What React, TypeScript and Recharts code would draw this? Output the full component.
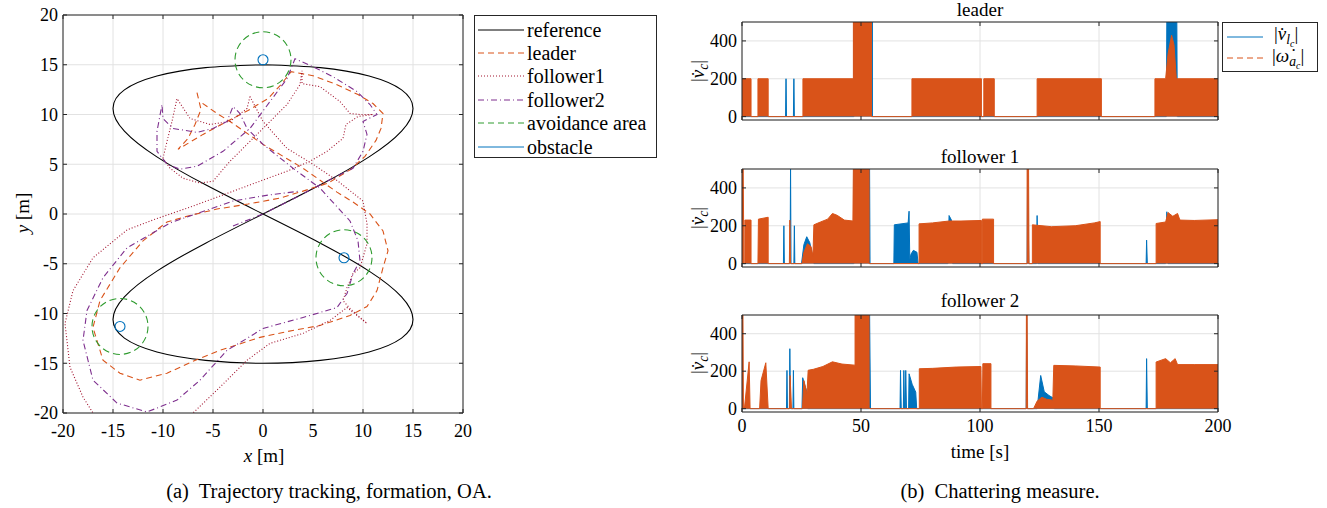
import React from "react";
import {
  LineChart,
  Line,
  ComposedChart,
  Area,
  XAxis,
  YAxis,
  CartesianGrid,
  ReferenceDot,
  Legend,
} from "recharts";

const FONT = '"Liberation Serif", "Times New Roman", serif';
const AXIS = "#262626";
const GRID = "#e2e2e2";
const C_BLUE = "#0072BD";
const C_ORANGE = "#D95319";
const C_F1 = "#A2142F";
const C_F2 = "#7E2F8E";
const C_GREEN = "#2E9B2E";

// ---- (a) trajectories ----
const trajTicks = [-20, -15, -10, -5, 0, 5, 10, 15, 20];

const referencePath = [
  { x: 0, y: 15 }, { x: 5.74, y: 14.71 }, { x: 10.61, y: 13.86 }, { x: 13.86, y: 12.47 },
  { x: 15, y: 10.61 }, { x: 13.86, y: 8.33 }, { x: 10.61, y: 5.74 }, { x: 5.74, y: 2.93 },
  { x: 0, y: 0 }, { x: -5.74, y: -2.93 }, { x: -10.61, y: -5.74 }, { x: -13.86, y: -8.33 },
  { x: -15, y: -10.61 }, { x: -13.86, y: -12.47 }, { x: -10.61, y: -13.86 }, { x: -5.74, y: -14.71 },
  { x: 0, y: -15 }, { x: 5.74, y: -14.71 }, { x: 10.61, y: -13.86 }, { x: 13.86, y: -12.47 },
  { x: 15, y: -10.61 }, { x: 13.86, y: -8.33 }, { x: 10.61, y: -5.74 }, { x: 5.74, y: -2.93 },
  { x: 0, y: 0 }, { x: -5.74, y: 2.93 }, { x: -10.61, y: 5.74 }, { x: -13.86, y: 8.33 },
  { x: -15, y: 10.61 }, { x: -13.86, y: 12.47 }, { x: -10.61, y: 13.86 }, { x: -5.74, y: 14.71 },
  { x: 0, y: 15 },
];

const leaderPath = [
  { x: -6.6, y: 12.2 }, { x: -6.2, y: 10.5 }, { x: -6.8, y: 9 }, { x: -7.5, y: 7.6 },
  { x: -8.5, y: 6.5 }, { x: -6, y: 8 }, { x: -3.6, y: 9.3 }, { x: -1.5, y: 10.4 },
  { x: 0.5, y: 11.6 }, { x: 1.8, y: 13 }, { x: 2.8, y: 14.3 }, { x: 5, y: 13.9 },
  { x: 7.4, y: 13 }, { x: 9.5, y: 12 }, { x: 11, y: 11.1 }, { x: 12, y: 10.1 },
  { x: 11.8, y: 8.6 }, { x: 11.3, y: 7.4 }, { x: 10.2, y: 5.8 }, { x: 8.8, y: 4.5 },
  { x: 6.5, y: 3.1 }, { x: 4, y: 2.3 }, { x: 1.7, y: 1.6 }, { x: -1.5, y: 1 },
  { x: -4.6, y: 0.5 }, { x: -7.5, y: -0.2 }, { x: -9.6, y: -0.8 }, { x: -12, y: -2.7 },
  { x: -14.3, y: -5.4 }, { x: -16.3, y: -8.7 }, { x: -17, y: -11.4 }, { x: -16, y: -14.7 },
  { x: -14.3, y: -16 }, { x: -12.3, y: -16.7 }, { x: -9.6, y: -16 }, { x: -7, y: -14.8 },
  { x: -4.3, y: -13.7 }, { x: -0.3, y: -12.4 }, { x: 2.5, y: -11.8 }, { x: 5.7, y: -11.2 },
  { x: 8.7, y: -10.2 }, { x: 10.4, y: -9.3 }, { x: 11.4, y: -7.7 }, { x: 12, y: -5.4 },
  { x: 12.5, y: -3.7 }, { x: 12, y: -1.7 }, { x: 10.7, y: 0 }, { x: 9, y: 1.2 },
  { x: 7.4, y: 2.2 }, { x: 4, y: 4.6 }, { x: 0, y: 7 }, { x: -3.3, y: 9.3 },
  { x: -4.6, y: 10.1 }, { x: -6.3, y: 11.3 },
];

const follower1Path = [
  { x: -1.3, y: 11.8 }, { x: -1.6, y: 10.6 }, { x: -3.3, y: 9.3 }, { x: -5.3, y: 9 },
  { x: -7.3, y: 9.6 }, { x: -8.6, y: 11.6 }, { x: -9.1, y: 9.3 }, { x: -9.6, y: 7.3 },
  { x: -10, y: 5.6 }, { x: -9.3, y: 4.6 }, { x: -8, y: 3.6 }, { x: -6.3, y: 3.1 },
  { x: -5, y: 3.3 }, { x: -3.3, y: 5.3 }, { x: -1.3, y: 7.3 }, { x: 0.7, y: 9.3 },
  { x: 2.4, y: 11 }, { x: 3.7, y: 13 }, { x: 3.9, y: 14.4 }, { x: 3.9, y: 13.1 },
  { x: 5.7, y: 12.8 }, { x: 7.7, y: 11.3 }, { x: 8.7, y: 10.1 }, { x: 9.7, y: 10 },
  { x: 11, y: 10 }, { x: 9.5, y: 9.8 }, { x: 8.3, y: 9 }, { x: 8, y: 7.6 },
  { x: 6.4, y: 6.3 }, { x: 4.7, y: 5.3 }, { x: 2.4, y: 4.3 }, { x: -0.3, y: 3.3 },
  { x: -3.5, y: 2.1 }, { x: -7, y: 0.8 }, { x: -11, y: -0.6 }, { x: -13.6, y: -1.6 },
  { x: -17, y: -4.4 }, { x: -19, y: -7.7 }, { x: -19.8, y: -11 }, { x: -19.3, y: -15.4 },
  { x: -18, y: -18.4 }, { x: -17, y: -20 }, { x: -15, y: -21.8 }, { x: -11, y: -22.5 },
  { x: -7.6, y: -20.6 }, { x: -7, y: -20 }, { x: -4.3, y: -17.4 }, { x: -1.6, y: -14.7 },
  { x: 0.7, y: -13 }, { x: 4, y: -12 }, { x: 6.7, y: -10.7 }, { x: 8.4, y: -9.4 },
  { x: 10.4, y: -11 }, { x: 8.8, y: -9.6 }, { x: 8, y: -8.7 }, { x: 8.4, y: -7.4 },
  { x: 9, y: -6 }, { x: 9.7, y: -5.4 }, { x: 10.4, y: -3 }, { x: 10.4, y: -1 },
  { x: 10, y: 1.3 }, { x: 7.5, y: 3.3 }, { x: 5, y: 5 }, { x: 3.7, y: 5.8 },
  { x: 2.4, y: 6.6 }, { x: 0, y: 9.3 }, { x: -1.3, y: 11.8 },
];

const follower2Path = [
  { x: -3, y: -1.2 }, { x: 0, y: 0 }, { x: 3, y: 1.5 }, { x: 6.4, y: 3.3 },
  { x: 9, y: 4.6 }, { x: 10, y: 6.3 }, { x: 10.4, y: 8 }, { x: 10, y: 9.3 },
  { x: 11.4, y: 10 }, { x: 10.7, y: 11 }, { x: 9.4, y: 12.3 }, { x: 7, y: 13.8 },
  { x: 5, y: 14.8 }, { x: 3.2, y: 15.6 }, { x: 2.4, y: 13.6 }, { x: 0.7, y: 11.3 },
  { x: -1.3, y: 8.6 }, { x: -4, y: 6.3 }, { x: -6.6, y: 4.8 }, { x: -8.3, y: 4.5 },
  { x: -9.6, y: 5 }, { x: -10.6, y: 6.3 }, { x: -10.6, y: 8.3 }, { x: -10.1, y: 11 },
  { x: -10, y: 9.6 }, { x: -9, y: 8.6 }, { x: -6.6, y: 8.2 }, { x: -5, y: 8.6 },
  { x: -3.6, y: 9.3 }, { x: -3, y: 10.8 }, { x: -2.3, y: 10.1 }, { x: -1.6, y: 8.6 },
  { x: 0, y: 7 }, { x: 3, y: 4.6 }, { x: 5.7, y: 2.6 }, { x: 8.7, y: -0.7 },
  { x: 9.5, y: -2.7 }, { x: 9.7, y: -4.7 }, { x: 9, y: -6 }, { x: 8.4, y: -8 },
  { x: 7.4, y: -9.4 }, { x: 4, y: -10.4 }, { x: 0, y: -11.5 }, { x: -1.6, y: -12.5 },
  { x: -3.6, y: -13.7 }, { x: -6.3, y: -16.7 }, { x: -8.6, y: -18.7 }, { x: -11.6, y: -19.9 },
  { x: -14.6, y: -19 }, { x: -17, y: -16.7 }, { x: -18, y: -12.7 }, { x: -17.6, y: -9.7 },
  { x: -16, y: -6.4 }, { x: -13.6, y: -3.4 }, { x: -9.3, y: -0.9 }, { x: -3, y: 1.3 },
  { x: 0.5, y: 1.9 }, { x: 3.7, y: 2.3 },
];

const obstacles = [
  { x: 0, y: 15.5 },
  { x: 8.1, y: -4.4 },
  { x: -14.3, y: -11.3 },
];

// ---- (b) chattering envelopes ----
const timeTicks = [0, 50, 100, 150, 200];
const chatTicks = [0, 200, 400];

const leaderV = [
  { t: 0, v: 0 }, { t: 18.3, v: 0 }, { t: 18.5, v: 200 }, { t: 18.7, v: 0 },
  { t: 21.6, v: 0 }, { t: 21.8, v: 200 }, { t: 22, v: 0 }, { t: 47, v: 0 },
  { t: 47, v: 520 }, { t: 54.8, v: 520 }, { t: 54.8, v: 0 }, { t: 178.3, v: 0 },
  { t: 178.5, v: 520 }, { t: 182.7, v: 520 }, { t: 182.9, v: 0 }, { t: 200, v: 0 },
];
const leaderW = [
  { t: 0, v: 0 }, { t: 0, v: 200 }, { t: 3.8, v: 200 }, { t: 3.8, v: 0 },
  { t: 6.7, v: 0 }, { t: 6.7, v: 200 }, { t: 11, v: 200 }, { t: 11, v: 0 },
  { t: 25.6, v: 0 }, { t: 25.6, v: 200 }, { t: 46.8, v: 200 }, { t: 46.8, v: 520 },
  { t: 54.4, v: 520 }, { t: 54.4, v: 0 }, { t: 71.4, v: 0 }, { t: 71.4, v: 200 },
  { t: 100.6, v: 200 }, { t: 100.6, v: 0 }, { t: 101.6, v: 0 }, { t: 101.6, v: 200 },
  { t: 106, v: 200 }, { t: 106, v: 0 }, { t: 124, v: 0 }, { t: 124, v: 200 },
  { t: 151, v: 200 }, { t: 151, v: 0 }, { t: 173.5, v: 0 }, { t: 173.5, v: 200 },
  { t: 178, v: 200 }, { t: 179, v: 330 }, { t: 180.5, v: 430 }, { t: 181.5, v: 380 },
  { t: 182.5, v: 200 }, { t: 200, v: 200 },
];

const follower1V = [
  { t: 0, v: 0 }, { t: 17.4, v: 0 }, { t: 17.6, v: 200 }, { t: 17.8, v: 0 },
  { t: 20.2, v: 0 }, { t: 20.4, v: 520 }, { t: 20.6, v: 0 }, { t: 21.8, v: 0 },
  { t: 22, v: 200 }, { t: 22.2, v: 0 }, { t: 25, v: 0 }, { t: 26, v: 100 },
  { t: 27.2, v: 142 }, { t: 28.5, v: 110 }, { t: 29.8, v: 30 }, { t: 30.2, v: 0 },
  { t: 47, v: 0 }, { t: 47, v: 520 }, { t: 53.6, v: 520 }, { t: 53.8, v: 0 },
  { t: 63.8, v: 0 }, { t: 64, v: 205 }, { t: 69.8, v: 215 }, { t: 70.2, v: 277 },
  { t: 70.5, v: 20 }, { t: 71, v: 50 }, { t: 72, v: 70 }, { t: 73.5, v: 60 },
  { t: 74, v: 0 }, { t: 86.5, v: 0 }, { t: 87, v: 254 }, { t: 88, v: 230 },
  { t: 88.5, v: 0 }, { t: 119.8, v: 0 }, { t: 120, v: 520 }, { t: 120.5, v: 0 },
  { t: 123.8, v: 0 }, { t: 124, v: 254 }, { t: 124.3, v: 0 }, { t: 169.8, v: 0 },
  { t: 170, v: 124 }, { t: 170.3, v: 0 }, { t: 178, v: 0 }, { t: 178.5, v: 274 },
  { t: 179, v: 0 }, { t: 200, v: 0 },
];
const follower1W = [
  { t: 0, v: 520 }, { t: 0.5, v: 520 }, { t: 0.8, v: 0 }, { t: 1.2, v: 0 },
  { t: 1.2, v: 230 }, { t: 3.8, v: 230 }, { t: 3.8, v: 0 }, { t: 6.7, v: 0 },
  { t: 6.9, v: 235 }, { t: 11, v: 245 }, { t: 11, v: 0 }, { t: 19.9, v: 0 },
  { t: 20.1, v: 230 }, { t: 20.4, v: 0 }, { t: 25.2, v: 0 }, { t: 26, v: 60 },
  { t: 27.5, v: 105 }, { t: 29, v: 90 }, { t: 29.8, v: 40 }, { t: 30.2, v: 205 },
  { t: 33, v: 220 }, { t: 36, v: 235 }, { t: 38, v: 265 }, { t: 40, v: 255 },
  { t: 43, v: 230 }, { t: 46.6, v: 225 }, { t: 46.8, v: 520 }, { t: 53.4, v: 520 },
  { t: 53.4, v: 0 }, { t: 74.4, v: 0 }, { t: 74.4, v: 210 }, { t: 80, v: 215 },
  { t: 87, v: 225 }, { t: 92, v: 225 }, { t: 100.6, v: 228 }, { t: 100.6, v: 0 },
  { t: 101, v: 0 }, { t: 101, v: 235 }, { t: 105.7, v: 235 }, { t: 105.7, v: 0 },
  { t: 119.8, v: 0 }, { t: 119.8, v: 520 }, { t: 120.4, v: 520 }, { t: 120.6, v: 0 },
  { t: 122, v: 0 }, { t: 122, v: 205 }, { t: 130, v: 195 }, { t: 140, v: 200 },
  { t: 148, v: 215 }, { t: 150.5, v: 222 }, { t: 150.5, v: 0 }, { t: 174, v: 0 },
  { t: 174, v: 212 }, { t: 178, v: 220 }, { t: 179, v: 270 }, { t: 181, v: 250 },
  { t: 183, v: 265 }, { t: 184, v: 230 }, { t: 190, v: 228 }, { t: 200, v: 232 },
];

const follower2V = [
  { t: 0, v: 0 }, { t: 18.7, v: 0 }, { t: 18.9, v: 204 }, { t: 19.1, v: 0 },
  { t: 19.9, v: 0 }, { t: 20.1, v: 320 }, { t: 20.4, v: 0 }, { t: 21.4, v: 0 },
  { t: 21.6, v: 204 }, { t: 21.8, v: 0 }, { t: 25.2, v: 0 }, { t: 25.5, v: 165 },
  { t: 26.5, v: 120 }, { t: 27.3, v: 88 }, { t: 27.6, v: 0 }, { t: 53.4, v: 0 },
  { t: 53.6, v: 520 }, { t: 54, v: 0 }, { t: 66.4, v: 0 }, { t: 66.6, v: 204 },
  { t: 66.9, v: 0 }, { t: 67.8, v: 0 }, { t: 68, v: 204 }, { t: 68.3, v: 0 },
  { t: 68.6, v: 0 }, { t: 68.8, v: 204 }, { t: 69.1, v: 0 }, { t: 70, v: 0 },
  { t: 70.2, v: 186 }, { t: 71.5, v: 130 }, { t: 73, v: 88 }, { t: 73.4, v: 0 },
  { t: 119.4, v: 0 }, { t: 119.6, v: 520 }, { t: 119.9, v: 0 }, { t: 124, v: 0 },
  { t: 125.5, v: 177 }, { t: 127, v: 90 }, { t: 129, v: 70 }, { t: 131, v: 55 },
  { t: 131.2, v: 0 }, { t: 169.8, v: 0 }, { t: 170, v: 267 }, { t: 170.3, v: 0 },
  { t: 200, v: 0 },
];
const follower2W = [
  { t: 0, v: 520 }, { t: 0.4, v: 520 }, { t: 0.6, v: 0 }, { t: 1, v: 0 },
  { t: 3, v: 250 }, { t: 3.4, v: 0 }, { t: 7.4, v: 0 }, { t: 8, v: 150 },
  { t: 10, v: 245 }, { t: 11, v: 0 }, { t: 20, v: 0 }, { t: 20.2, v: 177 },
  { t: 20.8, v: 0 }, { t: 25.4, v: 0 }, { t: 26, v: 150 }, { t: 27.3, v: 80 },
  { t: 27.8, v: 205 }, { t: 30, v: 210 }, { t: 34, v: 225 }, { t: 38, v: 250 },
  { t: 42, v: 238 }, { t: 47.5, v: 232 }, { t: 47.5, v: 520 }, { t: 53.4, v: 520 },
  { t: 53.4, v: 0 }, { t: 74.5, v: 0 }, { t: 74.5, v: 213 }, { t: 80, v: 215 },
  { t: 90, v: 222 }, { t: 100.4, v: 225 }, { t: 100.6, v: 0 }, { t: 101, v: 0 },
  { t: 101.2, v: 240 }, { t: 104.6, v: 240 }, { t: 104.6, v: 0 }, { t: 119.4, v: 0 },
  { t: 119.5, v: 520 }, { t: 119.8, v: 520 }, { t: 120, v: 0 }, { t: 122.5, v: 0 },
  { t: 124, v: 40 }, { t: 126, v: 61 }, { t: 128, v: 50 }, { t: 130.6, v: 45 },
  { t: 131, v: 231 }, { t: 140, v: 228 }, { t: 150.5, v: 222 }, { t: 150.5, v: 0 },
  { t: 174, v: 0 }, { t: 174, v: 249 }, { t: 178, v: 267 }, { t: 180, v: 245 },
  { t: 182, v: 267 }, { t: 183, v: 235 }, { t: 190, v: 235 }, { t: 200, v: 235 },
];

// MATLAB-style ticks: short marks pointing inwards, labels outside
const makeTick = (side: string, showLabel: boolean, gap = 6, len = 4) => (props: any) => {
  const { x, y, payload } = props;
  const label = String(payload.value);
  const txt = { fontFamily: FONT, fontSize: 18, fill: "#000" };
  if (side === "bottom")
    return (
      <g>
        <line x1={x} x2={x} y1={y} y2={y - len} stroke={AXIS} />
        {showLabel && <text x={x} y={y + gap} textAnchor="middle" {...txt}>{label}</text>}
      </g>
    );
  if (side === "top")
    return <line x1={x} x2={x} y1={y} y2={y + len} stroke={AXIS} />;
  if (side === "left")
    return (
      <g>
        <line x1={x} x2={x + len} y1={y} y2={y} stroke={AXIS} />
        {showLabel && <text x={x - gap} y={y} dy="0.35em" textAnchor="end" {...txt}>{label}</text>}
      </g>
    );
  return <line x1={x} x2={x - len} y1={y} y2={y} stroke={AXIS} />;
};

const trajLegend = [
  { label: "reference", color: "#000", dash: "" },
  { label: "leader", color: C_ORANGE, dash: "6 4" },
  { label: "follower1", color: C_F1, dash: "1 2" },
  { label: "follower2", color: C_F2, dash: "6 3 1 3" },
  { label: "avoidance area", color: C_GREEN, dash: "6 4" },
  { label: "obstacle", color: C_BLUE, dash: "" },
];

const TrajLegendBox = () => (
  <div style={{ width: 183, height: 143, border: `1px solid ${AXIS}`, boxSizing: "border-box", background: "#fff", fontFamily: FONT, fontSize: 20, paddingTop: 2, paddingLeft: 3 }}>
    {trajLegend.map((it) => (
      <div key={it.label} style={{ display: "flex", alignItems: "center", height: 23.4 }}>
        <svg width={46} height={10}>
          <line x1={0} x2={46} y1={5} y2={5} stroke={it.color} strokeDasharray={it.dash} />
        </svg>
        <span style={{ marginLeft: 3, lineHeight: 1 }}>{it.label}</span>
      </div>
    ))}
  </div>
);

const sub = { fontSize: "0.72em", verticalAlign: "-0.3em" } as const;

// letter with a combining dot above
const VDot = ({ sym }: { sym: string }) => <i>{sym + "\u0307"}</i>;

const ChatLegendBox = () => (
  <div style={{ width: 96, height: 50, border: `1px solid ${AXIS}`, boxSizing: "border-box", background: "#fff", fontFamily: FONT, fontSize: 19, paddingLeft: 4, paddingTop: 3 }}>
    <div style={{ display: "flex", alignItems: "center", height: 21 }}>
      <svg width={36} height={10}><line x1={0} x2={36} y1={5} y2={5} stroke={C_BLUE} /></svg>
      <span style={{ marginLeft: 11, lineHeight: 1 }}>
        |<VDot sym="v" /><span style={sub}><i>l</i><span style={sub}><i>c</i></span></span>|
      </span>
    </div>
    <div style={{ display: "flex", alignItems: "center", height: 22 }}>
      <svg width={36} height={10}><line x1={0} x2={36} y1={5} y2={5} stroke={C_ORANGE} strokeDasharray="6 4" /></svg>
      <span style={{ marginLeft: 9, lineHeight: 1 }}>
        |<VDot sym={"\u03c9"} /><span style={sub}><i>a</i><span style={sub}><i>c</i></span></span>|
      </span>
    </div>
  </div>
);

// axes get 1px of room (an axis of size 0 is not drawn), margins are 1px smaller to compensate
const TrajectoryChart = () => (
  <LineChart width={660} height={470} margin={{ top: 14, right: 196, bottom: 56, left: 62 }}>
    <CartesianGrid stroke={GRID} />
    <XAxis type="number" dataKey="x" domain={[-20, 20]} ticks={trajTicks} interval={0} allowDataOverflow
      height={1} tickSize={0} tickMargin={0} tickLine={false} axisLine={{ stroke: AXIS }} tick={makeTick("bottom", true, 24)} />
    <XAxis xAxisId="top" orientation="top" type="number" dataKey="x" domain={[-20, 20]} ticks={trajTicks} interval={0} allowDataOverflow
      height={1} tickSize={0} tickMargin={0} tickLine={false} axisLine={{ stroke: AXIS }} tick={makeTick("top", false)} />
    <YAxis type="number" dataKey="y" domain={[-20, 20]} ticks={trajTicks} interval={0} allowDataOverflow
      width={1} tickSize={0} tickMargin={0} tickLine={false} axisLine={{ stroke: AXIS }} tick={makeTick("left", true, 5)} />
    <YAxis yAxisId="right" orientation="right" type="number" dataKey="y" domain={[-20, 20]} ticks={trajTicks} interval={0} allowDataOverflow
      width={1} tickSize={0} tickMargin={0} tickLine={false} axisLine={{ stroke: AXIS }} tick={makeTick("right", false)} />
    <Line data={referencePath} dataKey="y" type="natural" stroke="#000" strokeWidth={1.1} dot={false} activeDot={false} isAnimationActive={false} />
    <Line data={leaderPath} dataKey="y" type="linear" stroke={C_ORANGE} strokeWidth={1.1} strokeDasharray="6 4" dot={false} activeDot={false} isAnimationActive={false} />
    <Line data={follower1Path} dataKey="y" type="linear" stroke={C_F1} strokeWidth={1.1} strokeDasharray="1 2" dot={false} activeDot={false} isAnimationActive={false} />
    <Line data={follower2Path} dataKey="y" type="linear" stroke={C_F2} strokeWidth={1.1} strokeDasharray="6 3 1 3" dot={false} activeDot={false} isAnimationActive={false} />
    {obstacles.map((o) => (
      <ReferenceDot key={`area-${o.x}`} x={o.x} y={o.y} r={28} fill="none" stroke={C_GREEN} strokeWidth={1.1} strokeDasharray="7 4" />
    ))}
    {obstacles.map((o) => (
      <ReferenceDot key={`obs-${o.x}`} x={o.x} y={o.y} r={5} fill="none" stroke={C_BLUE} strokeWidth={1.1} />
    ))}
    <Legend layout="vertical" align="center" verticalAlign="middle" content={() => <TrajLegendBox />}
      wrapperStyle={{ left: 474, top: 15, width: 183, height: 143 }} />
  </LineChart>
);

interface PanelProps {
  blue: { t: number; v: number }[];
  orange: { t: number; v: number }[];
  height: number;
  mTop: number;
  mBottom: number;
  showX: boolean;
  legend?: boolean;
}

const ChatterPanel = ({ blue, orange, height, mTop, mBottom, showX, legend }: PanelProps) => (
  <ComposedChart width={620} height={height} margin={{ top: mTop - 1, right: 101, bottom: mBottom - 1, left: 41 }}>
    <CartesianGrid stroke={GRID} />
    <XAxis type="number" dataKey="t" domain={[0, 200]} ticks={timeTicks} interval={0} allowDataOverflow
      height={1} tickSize={0} tickMargin={0} tickLine={false} axisLine={{ stroke: AXIS }} tick={makeTick("bottom", showX, 20)} />
    <XAxis xAxisId="top" orientation="top" type="number" dataKey="t" domain={[0, 200]} ticks={timeTicks} interval={0} allowDataOverflow
      height={1} tickSize={0} tickMargin={0} tickLine={false} axisLine={{ stroke: AXIS }} tick={makeTick("top", false)} />
    <YAxis type="number" domain={[-18, 500]} ticks={chatTicks} interval={0} allowDataOverflow
      width={1} tickSize={0} tickMargin={0} tickLine={false} axisLine={{ stroke: AXIS }} tick={makeTick("left", true, 5)} />
    <YAxis yAxisId="right" orientation="right" type="number" domain={[-18, 500]} ticks={chatTicks} interval={0} allowDataOverflow
      width={1} tickSize={0} tickMargin={0} tickLine={false} axisLine={{ stroke: AXIS }} tick={makeTick("right", false)} />
    <Area data={blue} dataKey="v" type="linear" baseValue={0} stroke={C_BLUE} strokeWidth={1} fill={C_BLUE} fillOpacity={1}
      dot={false} activeDot={false} isAnimationActive={false} />
    <Area data={orange} dataKey="v" type="linear" baseValue={0} stroke={C_ORANGE} strokeWidth={1} fill={C_ORANGE} fillOpacity={1}
      dot={false} activeDot={false} isAnimationActive={false} />
    {legend && (
      <Legend layout="vertical" align="center" verticalAlign="middle" content={() => <ChatLegendBox />}
        wrapperStyle={{ left: 522, top: 22, width: 96, height: 50 }} />
    )}
  </ComposedChart>
);

const centered = (x: number, y: number, extra: React.CSSProperties = {}): React.CSSProperties => ({
  position: "absolute", left: x, top: y, transform: "translate(-50%, -50%)", whiteSpace: "pre", lineHeight: 1, ...extra,
});

const YLabelChat = ({ y }: { y: number }) => (
  <div style={centered(699, y, { transform: "translate(-50%, -50%) rotate(-90deg)", fontSize: 19 })}>
    |<VDot sym="v" /><span style={sub}><i>c</i></span>|
  </div>
);

export default function App() {
  return (
    <div style={{ position: "absolute", left: 0, top: 0, width: 1327, height: 508, overflow: "hidden", background: "#fff", fontFamily: FONT, color: "#000" }}>
      <div style={{ position: "absolute", left: 0, top: 0 }}>
        <TrajectoryChart />
      </div>
      <div style={centered(264, 455, { fontSize: 19 })}><i>x</i> [m]</div>
      <div style={centered(22, 213, { fontSize: 19, transform: "translate(-50%, -50%) rotate(-90deg)" })}><i>y</i> [m]</div>

      <div style={{ position: "absolute", left: 700, top: 0 }}>
        <ChatterPanel blue={leaderV} orange={leaderW} height={140} mTop={22} mBottom={20} showX={false} legend />
      </div>
      <div style={{ position: "absolute", left: 700, top: 149 }}>
        <ChatterPanel blue={follower1V} orange={follower1W} height={140} mTop={20} mBottom={22} showX={false} />
      </div>
      <div style={{ position: "absolute", left: 700, top: 295 }}>
        <ChatterPanel blue={follower2V} orange={follower2W} height={140} mTop={20} mBottom={23} showX />
      </div>
      <div style={centered(980, 9, { fontSize: 19 })}>leader</div>
      <div style={centered(980, 156, { fontSize: 19 })}>follower 1</div>
      <div style={centered(980, 300, { fontSize: 19 })}>follower 2</div>
      <YLabelChat y={71} />
      <YLabelChat y={218} />
      <YLabelChat y={363} />
      <div style={centered(980, 451, { fontSize: 19 })}>time [s]</div>

      <div style={centered(329, 491, { fontSize: 20.5 })}>{"(a)  Trajectory tracking, formation, OA."}</div>
      <div style={centered(1000, 491, { fontSize: 20.5 })}>{"(b)  Chattering measure."}</div>
    </div>
  );
}
